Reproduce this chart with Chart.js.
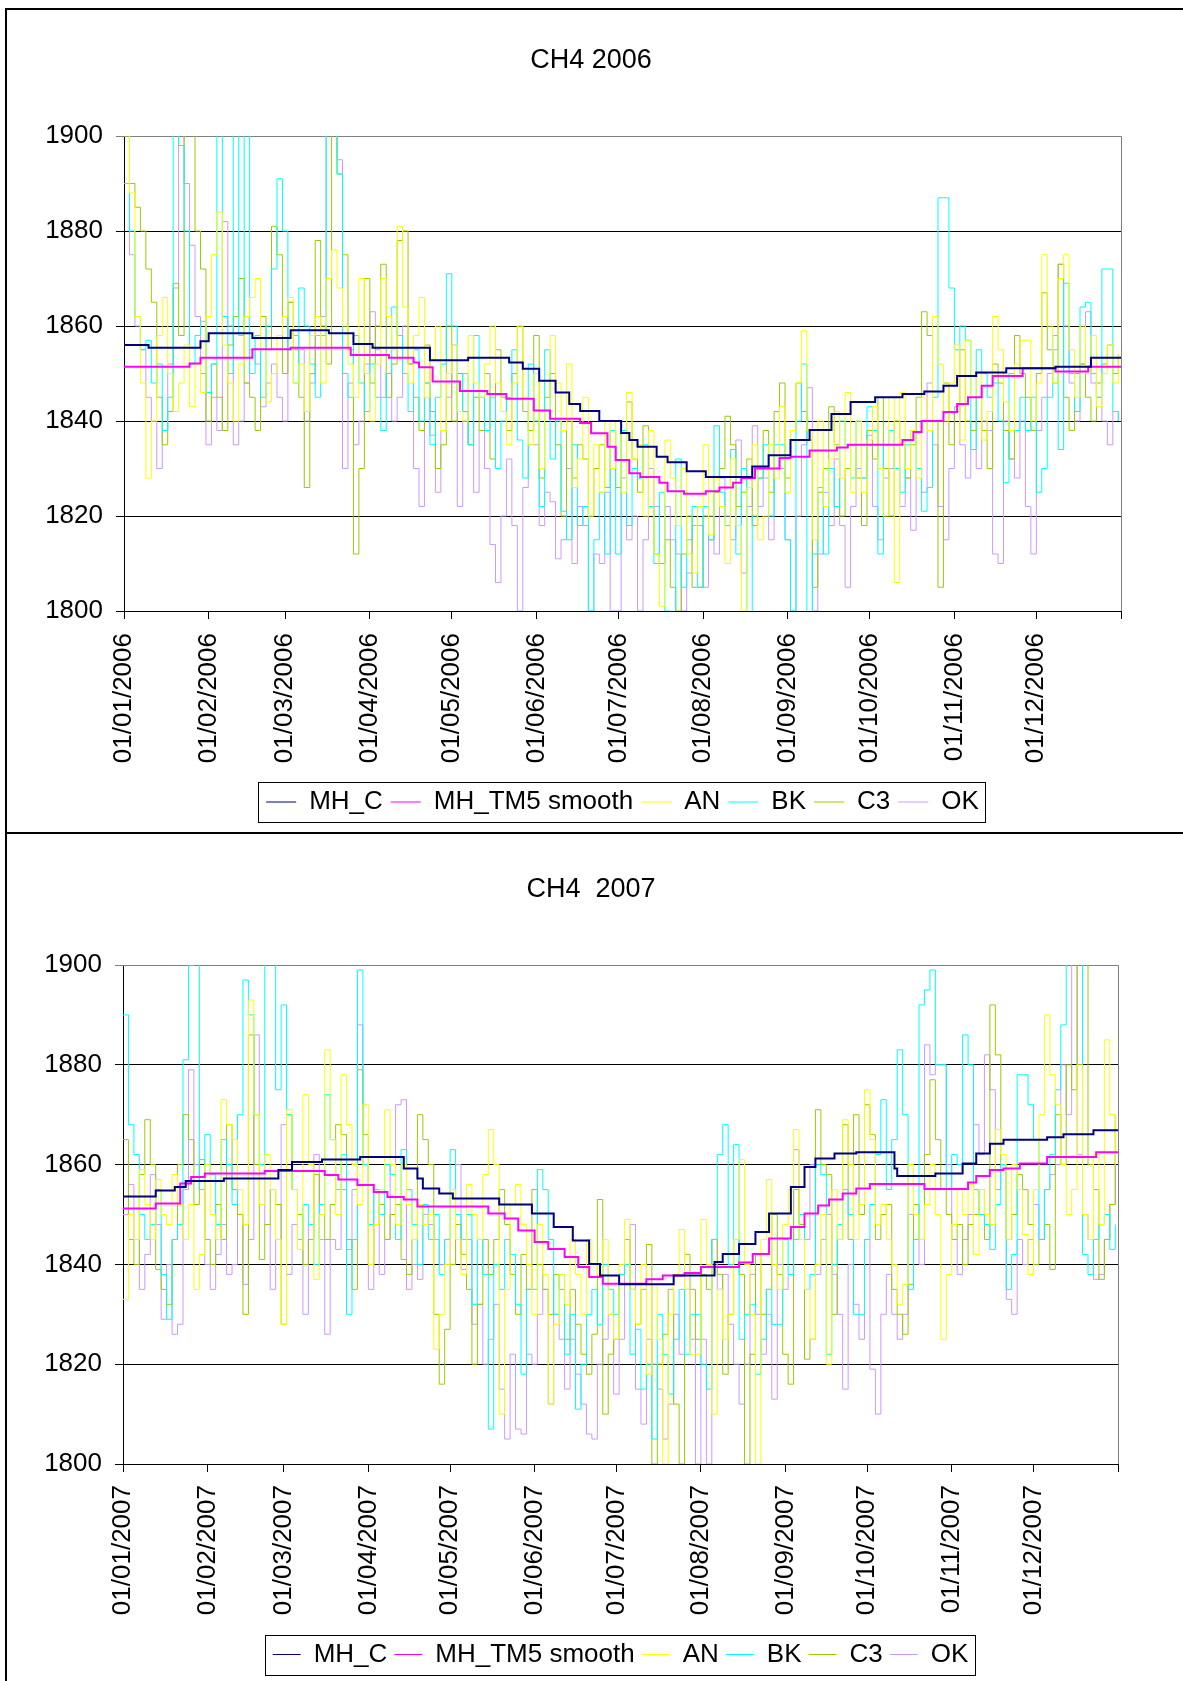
<!DOCTYPE html>
<html>
<head>
<meta charset="utf-8">
<title>CH4 2006 / 2007</title>
<script src="https://cdn.jsdelivr.net/npm/chart.js@4.4.0/dist/chart.umd.min.js"></script>
<style>
  html, body { margin: 0; padding: 0; background: #fff; overflow: hidden; }
  .box { position: absolute; left: 5px; width: 1190px; border: 2px solid #000; border-right: none; }
  #box1 { top: 8px; height: 822px; }
  #box2 { top: 832px; height: 900px; border-bottom: none; }
  canvas { display: block; }
</style>
</head>
<body>
<div class="box" id="box1"><canvas id="c2006" width="1176" height="822"></canvas></div>
<div class="box" id="box2"><canvas id="c2007" width="1176" height="847"></canvas></div>
<script>
// month boundaries (day of year) and their labels
const monthStartDays = [0, 31, 59, 90, 120, 151, 181, 212, 243, 273, 304, 334, 365];
const tickLabels2006 = ['01/01/2006', '01/02/2006', '01/03/2006', '01/04/2006', '01/05/2006', '01/06/2006',
  '01/07/2006', '01/08/2006', '01/09/2006', '01/10/2006', '01/11/2006', '01/12/2006', ''];
const tickLabels2007 = ['01/01/2007', '01/02/2007', '01/03/2007', '01/04/2007', '01/05/2007', '01/06/2007',
  '01/07/2007', '01/08/2007', '01/09/2007', '01/10/2007', '01/11/2007', '01/12/2007', ''];

const seriesNames = ['MH_C', 'MH_TM5 smooth', 'AN', 'BK', 'C3', 'OK'];
const seriesColors = ['#000080', '#FF00FF', '#FFFF00', '#00FFFF', '#99CC00', '#CC99FF'];

// model series, step changes (day of year, ppb)
const mhcDays2006 = [0,9,28,31,47,61,75,84,91,112,126,141,146,152,158,163,167,174,182,185,188,195,199,206,213,230,236,244,251,259,266,275,285,293,300,305,312,323,341,354,365];
const mhc2006 = [1856,1855.4,1856.8,1858.5,1857.5,1859.1,1858.5,1856.2,1855.4,1852.8,1853.3,1852.3,1851,1848.5,1846,1843.6,1842.1,1840,1837.5,1836,1834.6,1832.5,1831.3,1829.4,1828.2,1830.4,1832.8,1836,1838.1,1841.5,1844,1845,1845.7,1846.2,1847.4,1849.5,1850.2,1851.1,1851.4,1853.3,1853.3];
const tm5Days2006 = [0,24,28,47,61,83,97,106,108,113,123,133,140,150,156,167,171,177,180,185,189,196,199,205,213,218,223,226,231,240,244,251,261,265,285,289,292,300,305,309,314,318,329,341,353,365];
const tm52006 = [1851.4,1852.1,1853.3,1855.1,1855.4,1853.9,1853.3,1852.3,1851.3,1848.3,1846.3,1845.7,1844.7,1842.2,1840.5,1839.6,1837.4,1834.6,1831.8,1829,1828.2,1827,1825.2,1824.7,1825.2,1826,1827,1828,1830,1832.2,1832.5,1833.8,1834.4,1835,1836,1837.7,1840,1841.9,1843.6,1845,1847.4,1849.5,1851.1,1850.4,1851.4,1851.4];

const mhcDays2007 = [0,12,19,23,37,57,62,73,87,103,108,110,116,121,138,150,158,165,171,175,182,202,217,220,226,232,237,245,250,254,261,269,283,284,298,308,313,318,323,339,345,356,365];
const mhc2007 = [1853.6,1854.8,1855.5,1856.7,1857.2,1858.9,1860.5,1861,1861.5,1859.2,1857.2,1855.2,1854.2,1853.2,1852,1850.2,1847.5,1844.8,1840.1,1837.8,1836,1837.8,1840.5,1842.1,1844.1,1846.5,1850.2,1855.5,1859.5,1861.2,1862.2,1862.5,1859.2,1857.7,1858.2,1860.2,1862.2,1864.2,1865,1865.5,1866.1,1866.9,1866.9];
const tm5Days2007 = [0,12,21,25,30,52,74,79,86,92,97,103,108,134,140,145,151,156,162,167,171,176,192,198,206,212,226,231,237,245,250,255,259,264,269,274,294,310,313,318,323,329,339,357,365];
const tm52007 = [1851.2,1852.2,1856.2,1857.5,1858.2,1858.7,1857.9,1857,1855.9,1854.5,1853.5,1853,1851.6,1850.2,1849.2,1846.8,1844.5,1843.1,1841.5,1839.5,1837.5,1836.1,1837,1837.8,1838.3,1839.5,1840.4,1842.1,1845.2,1847.5,1850.2,1851.8,1853,1854.2,1855.2,1856.1,1855.1,1856.4,1857.7,1858.9,1859.2,1860.2,1861.5,1862.5,1862.5];

// station series, one value every 2 days from 1 Jan (15 values = 30 days per row)
const SAMPLE_STEP = 2;
const an2006 = [
  1905,1888,1862,1848,1828,1840,1858,1866,1850,1842,1848,1856,1843,1852,1846,
  1862,1875,1884,1856,1848,1840,1852,1862,1866,1870,1855,1844,1850,1858,1862,
  1866,1848,1852,1842,1858,1862,1848,1870,1876,1868,1860,1852,1845,1870,1850,
  1840,1852,1870,1862,1855,1881,1864,1848,1858,1866,1845,1853,1860,1838,1850,
  1856,1842,1840,1858,1848,1845,1852,1860,1848,1842,1835,1848,1860,1845,1835,
  1850,1830,1842,1858,1848,1838,1852,1826,1832,1845,1820,1835,1825,1840,1830,
  1840,1825,1846,1832,1835,1820,1838,1812,1801,1836,1828,1818,1830,1812,1808,
  1822,1835,1816,1828,1822,1810,1832,1818,1800,1826,1835,1815,1820,1835,1828,
  1843,1825,1838,1848,1859,1838,1815,1840,1822,1832,1842,1828,1846,1825,1840,
  1825,1836,1843,1830,1820,1845,1806,1846,1830,1838,1828,1845,1838,1862,1852,
  1840,1848,1856,1836,1857,1845,1850,1836,1842,1862,1855,1844,1838,1852,1857,
  1857,1840,1848,1875,1860,1848,1870,1875,1855,1845,1860,1850,1858,1843,1850,
  1856,1848,1854];
const bk2006 = [
  1905,1880,1862,1855,1857,1848,1852,1838,1845,1905,1898,1880,1852,1858,1861,
  1846,1852,1905,1862,1850,1905,1858,1905,1850,1858,1845,1860,1872,1891,1880,
  1855,1848,1868,1860,1852,1845,1858,1905,1905,1892,1850,1845,1858,1848,1842,
  1852,1845,1838,1850,1864,1858,1850,1842,1855,1840,1848,1835,1845,1852,1871,
  1860,1842,1850,1835,1858,1845,1838,1845,1830,1840,1845,1855,1836,1828,1852,
  1840,1822,1855,1832,1840,1821,1815,1835,1818,1822,1800,1815,1825,1812,1838,
  1812,1838,1818,1830,1828,1835,1822,1810,1825,1800,1798,1832,1805,1815,1822,
  1805,1822,1815,1839,1825,1818,1834,1812,1830,1799,1820,1828,1835,1820,1835,
  1835,1815,1800,1840,1852,1799,1812,1826,1812,1830,1822,1840,1835,1828,1840,
  1828,1843,1838,1812,1835,1838,1830,1825,1835,1838,1830,1821,1826,1845,1887,
  1887,1868,1855,1860,1857,1834,1855,1850,1845,1848,1840,1827,1850,1838,1845,
  1838,1845,1825,1830,1845,1858,1834,1869,1850,1842,1864,1865,1850,1845,1872,
  1872,1842,1840];
const c32006 = [
  1900,1890,1885,1880,1872,1865,1845,1835,1842,1869,1858,1905,1905,1880,1872,
  1840,1852,1845,1838,1856,1862,1870,1848,1845,1838,1862,1855,1881,1875,1850,
  1865,1855,1845,1826,1850,1878,1860,1852,1905,1892,1875,1855,1812,1830,1870,
  1848,1860,1873,1845,1852,1878,1880,1852,1845,1838,1856,1842,1830,1835,1860,
  1840,1850,1842,1835,1845,1838,1850,1832,1855,1845,1838,1850,1860,1842,1838,
  1858,1828,1845,1850,1835,1820,1840,1828,1835,1832,1820,1830,1835,1826,1838,
  1826,1838,1844,1832,1825,1839,1822,1812,1810,1815,1805,1800,1812,1820,1805,
  1805,1820,1815,1825,1830,1841,1835,1822,1825,1832,1818,1828,1838,1825,1842,
  1848,1828,1838,1848,1842,1836,1805,1825,1830,1843,1835,1820,1830,1835,1828,
  1818,1838,1832,1845,1830,1820,1840,1835,1828,1835,1845,1863,1858,1840,1805,
  1848,1835,1842,1855,1840,1838,1845,1838,1830,1852,1848,1838,1832,1858,1850,
  1845,1838,1850,1867,1855,1848,1873,1845,1838,1850,1852,1845,1840,1848,1852,
  1856,1850,1854];
const ok2006 = [
  1890,1875,1860,1855,1845,1840,1830,1838,1852,1868,1905,1890,1877,1862,1850,
  1835,1845,1838,1882,1860,1835,1840,1848,1855,1852,1843,1848,1852,1845,1840,
  1865,1858,1855,1840,1848,1858,1862,1905,1905,1895,1830,1848,1835,1840,1852,
  1863,1855,1845,1850,1840,1845,1860,1852,1830,1822,1848,1837,1825,1838,1845,
  1856,1822,1840,1835,1825,1838,1830,1814,1806,1820,1832,1818,1800,1826,1835,
  1835,1818,1825,1823,1811,1815,1830,1810,1822,1818,1800,1812,1810,1825,1800,
  1800,1828,1815,1820,1800,1815,1830,1822,1810,1822,1815,1812,1800,1808,1818,
  1818,1805,1820,1812,1828,1820,1815,1836,1808,1822,1839,1822,1828,1815,1830,
  1830,1815,1800,1820,1835,1847,1800,1812,1825,1818,1832,1818,1805,1822,1830,
  1828,1837,1822,1815,1828,1830,1835,1822,1828,1817,1830,1825,1848,1835,1822,
  1815,1830,1843,1835,1828,1838,1830,1840,1838,1812,1810,1840,1832,1828,1840,
  1822,1812,1838,1845,1850,1855,1873,1860,1848,1840,1852,1863,1848,1845,1840,
  1835,1842,1840];

const an2007 = [
  1833,1850,1845,1859,1852,1845,1857,1850,1848,1858,1852,1845,1852,1835,1842,
  1860,1850,1845,1873,1868,1865,1855,1848,1893,1870,1852,1862,1855,1845,1828,
  1871,1855,1843,1874,1860,1837,1850,1883,1865,1850,1878,1868,1860,1852,1872,
  1840,1848,1855,1871,1860,1848,1860,1852,1845,1852,1848,1850,1823,1830,1840,
  1855,1845,1838,1856,1850,1845,1858,1867,1860,1810,1835,1852,1856,1848,1840,
  1830,1848,1838,1812,1828,1838,1832,1845,1838,1830,1845,1840,1838,1845,1830,
  1825,1840,1849,1835,1828,1840,1818,1836,1825,1800,1830,1838,1847,1835,1822,
  1822,1849,1840,1810,1835,1825,1830,1845,1861,1840,1830,1800,1845,1857,1840,
  1835,1848,1855,1867,1845,1835,1825,1840,1850,1820,1855,1845,1869,1860,1845,
  1852,1875,1865,1848,1852,1845,1840,1832,1836,1860,1850,1845,1852,1860,1850,
  1825,1838,1848,1855,1850,1856,1842,1855,1850,1848,1867,1862,1845,1860,1855,
  1846,1838,1855,1870,1890,1878,1872,1860,1850,1855,1880,1850,1845,1862,1848,
  1885,1870,1860];
const bk2007 = [
  1890,1868,1862,1850,1845,1848,1855,1838,1829,1845,1848,1881,1900,1905,1855,
  1866,1858,1848,1865,1860,1852,1870,1897,1890,1870,1860,1905,1905,1875,1892,
  1870,1855,1845,1852,1848,1840,1852,1874,1865,1855,1862,1830,1845,1899,1860,
  1848,1855,1850,1860,1858,1845,1863,1855,1848,1840,1852,1845,1850,1838,1845,
  1863,1850,1845,1850,1832,1845,1838,1807,1840,1835,1845,1842,1832,1818,1835,
  1835,1859,1855,1845,1830,1838,1822,1830,1811,1820,1830,1835,1828,1840,1835,
  1830,1838,1840,1822,1827,1815,1820,1805,1830,1822,1814,1825,1835,1822,1830,
  1830,1820,1815,1845,1862,1868,1840,1864,1825,1830,1832,1818,1825,1835,1828,
  1828,1845,1838,1845,1850,1835,1838,1860,1858,1822,1840,1848,1855,1850,1830,
  1830,1845,1852,1862,1873,1855,1865,1883,1870,1835,1845,1892,1895,1899,1880,
  1880,1855,1862,1860,1886,1880,1855,1850,1848,1843,1852,1860,1835,1842,1878,
  1878,1872,1865,1845,1855,1862,1875,1888,1905,1905,1905,1842,1838,1845,1848,
  1850,1843,1848];
const c32007 = [
  1865,1845,1840,1858,1869,1860,1839,1835,1832,1845,1860,1870,1865,1852,1861,
  1845,1840,1852,1845,1868,1855,1850,1830,1886,1860,1841,1848,1855,1852,1828,
  1870,1855,1850,1840,1845,1858,1852,1845,1852,1868,1866,1845,1835,1879,1866,
  1840,1848,1852,1845,1850,1852,1841,1838,1845,1870,1865,1860,1830,1816,1827,
  1840,1848,1842,1835,1820,1832,1845,1838,1845,1855,1848,1838,1830,1842,1835,
  1855,1840,1835,1830,1838,1835,1825,1835,1828,1822,1818,1826,1853,1810,1822,
  1825,1838,1845,1835,1828,1835,1844,1800,1820,1826,1835,1812,1800,1842,1835,
  1825,1838,1835,1845,1838,1818,1830,1845,1838,1800,1822,1842,1830,1835,1850,
  1838,1822,1816,1855,1848,1821,1825,1871,1860,1858,1830,1845,1868,1845,1870,
  1850,1872,1866,1845,1850,1852,1835,1830,1826,1836,1852,1845,1862,1877,1865,
  1855,1850,1845,1848,1840,1848,1850,1855,1845,1892,1882,1860,1845,1850,1858,
  1855,1848,1840,1845,1848,1839,1870,1860,1880,1875,1905,1905,1860,1855,1837,
  1845,1852,1870];
const ok2007 = [
  1850,1856,1845,1835,1842,1858,1848,1829,1840,1826,1828,1855,1879,1860,1855,
  1840,1835,1842,1848,1838,1840,1850,1836,1845,1886,1860,1848,1835,1845,1868,
  1838,1848,1845,1830,1848,1862,1845,1826,1845,1843,1855,1843,1855,1888,1860,
  1835,1855,1838,1845,1860,1872,1873,1835,1840,1837,1850,1848,1845,1840,1845,
  1840,1860,1839,1845,1828,1832,1820,1825,1832,1815,1805,1822,1807,1806,1822,
  1820,1830,1835,1812,1830,1825,1815,1825,1818,1812,1806,1805,1820,1825,1830,
  1814,1825,1840,1848,1815,1808,1825,1820,1815,1805,1812,1830,1822,1835,1825,
  1800,1825,1800,1845,1835,1838,1828,1820,1812,1820,1838,1830,1822,1830,1813,
  1840,1835,1838,1863,1850,1845,1860,1838,1845,1850,1838,1830,1815,1840,1832,
  1825,1845,1819,1810,1830,1838,1830,1825,1830,1850,1845,1840,1884,1878,1880,
  1880,1860,1845,1838,1845,1850,1868,1862,1882,1875,1855,1860,1833,1830,1845,
  1840,1845,1852,1845,1855,1858,1860,1880,1870,1905,1862,1850,1845,1837,1838,
  1845,1852,1862];

const yTicks = { min: 1800, max: 1900, step: 20 };

Chart.defaults.font.family = '"Liberation Sans", Arial, sans-serif';
Chart.defaults.font.size = 26;
Chart.defaults.color = '#000';

function toPoints(days, values) {
  return values.map((v, i) => ({ x: days[i], y: v }));
}
function sampled(values) {
  return toPoints(values.map((v, i) => i * SAMPLE_STEP), values);
}

// grey frame on top/right of the plot, and a box round the legend
const framePlugin = {
  id: 'frame',
  beforeDatasetsDraw(chart) {
    const { ctx, chartArea: a } = chart;
    ctx.save();
    ctx.strokeStyle = '#808080';
    ctx.lineWidth = 1;
    ctx.beginPath();
    ctx.moveTo(Math.round(a.left), Math.round(a.top) + 0.5);
    ctx.lineTo(Math.round(a.right) + 0.5, Math.round(a.top) + 0.5);
    ctx.lineTo(Math.round(a.right) + 0.5, Math.round(a.bottom));
    ctx.stroke();
    ctx.restore();
  },
  afterDraw(chart) {
    const boxes = chart.legend.legendHitBoxes;
    if (!boxes || !boxes.length) return;
    const left = Math.min(...boxes.map(b => b.left));
    const right = Math.max(...boxes.map(b => b.left + b.width));
    const mid = boxes[0].top + boxes[0].height / 2;
    const ctx = chart.ctx;
    ctx.save();
    ctx.strokeStyle = '#000';
    ctx.lineWidth = 1;
    ctx.strokeRect(Math.round(left - 8) + 0.5, Math.round(mid - 20) + 0.5, Math.round(right - left + 14), 40);
    ctx.restore();
  }
};

function makeChart(canvasId, title, labels, series, lay) {
  const datasets = series.map((s, i) => ({
    label: seriesNames[i],
    data: s,
    borderColor: seriesColors[i],
    backgroundColor: seriesColors[i],
    borderWidth: i < 2 ? 2 : 1,
    stepped: true,
    pointRadius: 0,
    fill: false
  }));

  return new Chart(document.getElementById(canvasId), {
    type: 'line',
    data: { datasets },
    plugins: [framePlugin],
    options: {
      responsive: false,
      animation: false,
      devicePixelRatio: 1,
      layout: { padding: { left: 0, right: lay.padRight, top: 0, bottom: lay.padBottom } },
      plugins: {
        title: {
          display: true,
          text: title,
          color: '#000',
          font: { size: 27, weight: 'normal' },
          padding: { top: lay.titleTop, bottom: lay.titleBottom }
        },
        legend: {
          position: 'bottom',
          fullSize: false,
          labels: {
            usePointStyle: true,
            pointStyle: 'line',
            pointStyleWidth: lay.legendLine,
            padding: lay.legendPad,
            color: '#000',
            font: { size: 26 },
            generateLabels: chart => Chart.defaults.plugins.legend.labels.generateLabels(chart)
              .map(item => Object.assign(item, { lineWidth: 1 }))
          }
        },
        tooltip: { enabled: false }
      },
      scales: {
        x: {
          type: 'linear',
          min: 0,
          max: 365,
          afterBuildTicks: s => { s.ticks = monthStartDays.map(v => ({ value: v })); },
          afterFit: s => { s.height = lay.xHeight; },
          grid: { drawOnChartArea: false, color: '#000', tickLength: 8 },
          border: { color: '#000' },
          ticks: {
            autoSkip: false,
            minRotation: 90,
            maxRotation: 90,
            padding: lay.xPad,
            color: '#000',
            callback: (v, i) => labels[i]
          }
        },
        y: {
          min: yTicks.min,
          max: yTicks.max,
          afterFit: s => { s.width = lay.yWidth; },
          grid: {
            color: c => (c.tick && c.tick.value === yTicks.max ? '#808080' : '#000'),
            tickLength: 8
          },
          border: { color: '#000' },
          ticks: { stepSize: yTicks.step, padding: 13, color: '#000', callback: v => String(v) }
        },
        // empty spacer on the right so the plot ends where the original does
        spacer: {
          type: 'linear',
          position: 'right',
          grid: { display: false },
          border: { display: false },
          ticks: { display: false },
          afterFit: s => { s.width = lay.rightWidth; }
        }
      }
    }
  });
}

makeChart('c2006', 'CH4 2006', tickLabels2006, [
  toPoints(mhcDays2006, mhc2006),
  toPoints(tm5Days2006, tm52006),
  sampled(an2006), sampled(bk2006), sampled(c32006), sampled(ok2006)
], { yWidth: 117, rightWidth: 54, padRight: 8, padBottom: 7, titleTop: 34.8, titleBottom: 58.8,
     xHeight: 170, xPad: 14, legendPad: 8, legendLine: 30 });

makeChart('c2007', 'CH4  2007', tickLabels2007, [
  toPoints(mhcDays2007, mhc2007),
  toPoints(tm5Days2007, tm52007),
  sampled(an2007), sampled(bk2007), sampled(c32007), sampled(ok2007)
], { yWidth: 116, rightWidth: 57, padRight: 8, padBottom: 3.5, titleTop: 39.8, titleBottom: 58.8,
     xHeight: 170.5, xPad: 13, legendPad: 7, legendLine: 28 });
</script>
</body>
</html>
